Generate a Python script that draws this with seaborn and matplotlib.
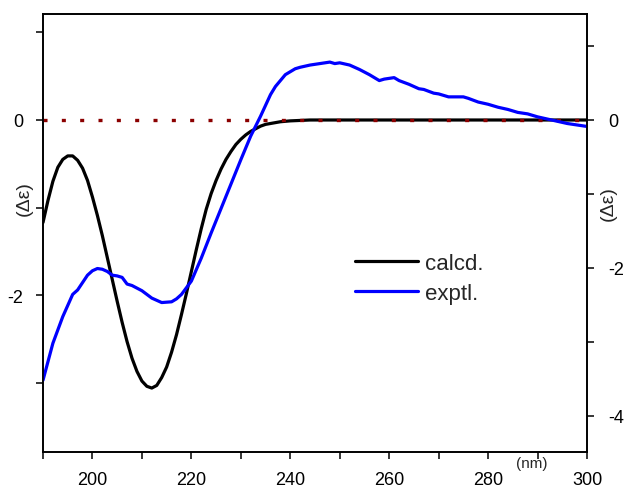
import numpy as np
import pandas as pd
import seaborn as sns
import matplotlib.pyplot as plt
from matplotlib.ticker import MultipleLocator
from matplotlib.lines import Line2D

# calculated ECD curve (left axis units)
calc_wl = list(range(190, 241)) + [242, 244, 250, 260, 270, 280, 290, 300]
calc_de = [-1.17, -0.92, -0.70, -0.54, -0.45, -0.41, -0.41, -0.46, -0.55, -0.69,
           -0.88, -1.09, -1.32, -1.57, -1.82, -2.07, -2.31, -2.53, -2.72, -2.87,
           -2.98, -3.04, -3.06, -3.03, -2.94, -2.82, -2.65, -2.45, -2.22, -1.98,
           -1.73, -1.48, -1.24, -1.02, -0.84, -0.69, -0.56, -0.45, -0.36, -0.28,
           -0.22, -0.17, -0.13, -0.10, -0.07, -0.05, -0.04, -0.03, -0.02, -0.015,
           -0.01, -0.005, 0.0, 0.0, 0.0, 0.0, 0.0, 0.0, 0.0]

# experimental ECD curve (right axis units)
expt_wl = [190, 192, 194, 196, 197, 198, 199, 200, 201, 202, 203, 204, 205, 206,
           207, 208, 210, 212, 214, 216, 217, 218, 219, 220, 222, 224, 226, 228,
           230, 232, 234, 236, 237, 238, 239, 240, 241, 242, 244, 246, 248, 249,
           250, 252, 254, 256, 258, 259, 261, 262, 264, 266, 267, 269, 270, 272,
           275, 276, 278, 280, 282, 284, 286, 288, 290, 292, 294, 296, 298, 300]
expt_de = [-3.52, -3.02, -2.66, -2.36, -2.30, -2.20, -2.10, -2.04, -2.01, -2.02,
           -2.05, -2.10, -2.11, -2.13, -2.22, -2.24, -2.31, -2.41, -2.47, -2.46,
           -2.42, -2.36, -2.27, -2.18, -1.87, -1.53, -1.20, -0.87,
           -0.54, -0.22, 0.05, 0.34, 0.45, 0.53, 0.61, 0.65, 0.69, 0.71, 0.74,
           0.76, 0.78, 0.76, 0.77, 0.74, 0.68, 0.61, 0.53, 0.55, 0.57, 0.53,
           0.48, 0.42, 0.41, 0.36, 0.35, 0.31, 0.31, 0.29, 0.24, 0.21, 0.17,
           0.14, 0.10, 0.08, 0.04, 0.01, -0.02, -0.05, -0.07, -0.09]

calc = pd.DataFrame({'wl': calc_wl, 'de': calc_de})
expt = pd.DataFrame({'wl': expt_wl, 'de': expt_de})

sns.set_style('ticks')
plt.rcParams['font.family'] = ['Liberation Sans', 'DejaVu Sans']
plt.rcParams['axes.unicode_minus'] = False
plt.rcParams['lines.scale_dashes'] = False

fig = plt.figure(figsize=(6.28, 4.89), dpi=100)
ax = fig.add_axes([43 / 628, 1 - 453 / 489, 544 / 628, 438 / 489])
ax2 = ax.twinx()

sns.lineplot(data=calc, x='wl', y='de', ax=ax, color='black', lw=2.3,
             sort=False, estimator=None, zorder=2)
# zero reference line, dots about 18 px apart
ax.axhline(0, color='#8b0000', lw=2.4, ls=(0, (2.9, 10.3)), zorder=3)
sns.lineplot(data=expt, x='wl', y='de', ax=ax2, color='#0000ff', lw=2.3,
             sort=False, estimator=None)

ax.set_xlim(190, 300)
ax.set_ylim(-3.79, 1.21)
ax2.set_ylim(-4.49, 1.43)

ax.xaxis.set_major_locator(MultipleLocator(20))
ax.xaxis.set_minor_locator(MultipleLocator(10))
ax.yaxis.set_major_locator(MultipleLocator(2))
ax.yaxis.set_minor_locator(MultipleLocator(1))
ax2.yaxis.set_major_locator(MultipleLocator(2))
ax2.yaxis.set_minor_locator(MultipleLocator(1))

for a in (ax, ax2):
    a.tick_params(which='both', direction='out', length=5, width=1.1,
                  labelsize=13, colors='black')
    for s in a.spines.values():
        s.set_visible(True)
        s.set_linewidth(1.2)
        s.set_color('black')
ax.tick_params(axis='x', pad=9)
ax.tick_params(axis='y', pad=9)
ax2.tick_params(axis='y', pad=10)

ax.set_xlabel('')
ax.set_ylabel('(Δε)', fontsize=14)
ax.yaxis.set_label_coords(-0.018, 0.58)
ax2.set_ylabel('(Δε)', fontsize=14, rotation=90)
ax2.yaxis.set_label_coords(1.024, 0.57)
ax.text(0.899, -0.025, '(nm)', transform=ax.transAxes, fontsize=11,
        ha='center', va='center')

handles = [Line2D([], [], color='black', lw=2.3),
           Line2D([], [], color='#0000ff', lw=2.3)]
ax2.legend(handles, ['calcd.', 'exptl.'], loc='upper left',
           bbox_to_anchor=(0.5735, 0.454), frameon=False, fontsize=16,
           handlelength=2.85, handletextpad=0.3, labelspacing=0.38,
           borderpad=0, borderaxespad=0)

plt.savefig('out.png', dpi=100)
